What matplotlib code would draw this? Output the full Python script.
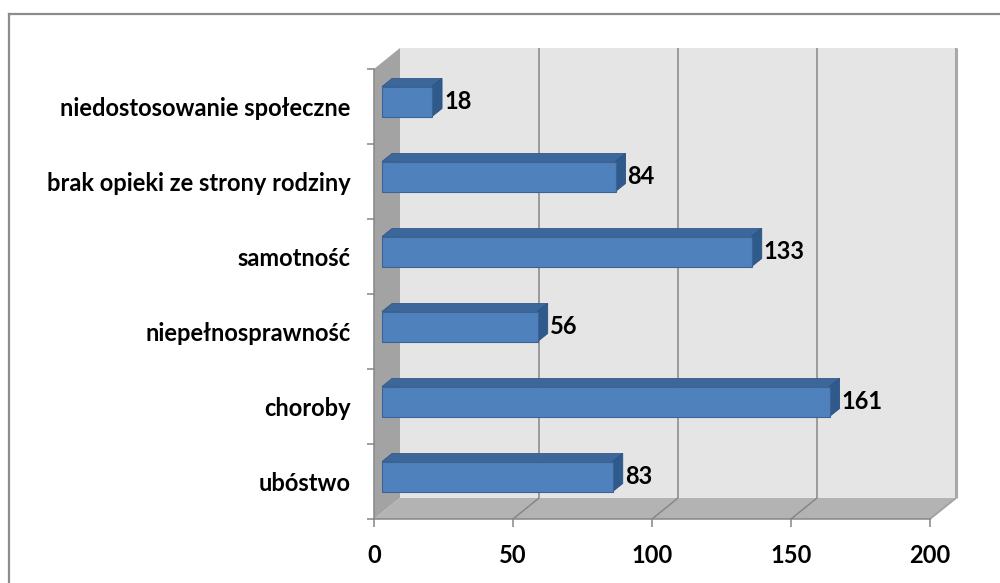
import numpy as np
import matplotlib
matplotlib.use("Agg")
import matplotlib.pyplot as plt
from matplotlib.patches import Polygon
from matplotlib.lines import Line2D
from matplotlib.transforms import IdentityTransform

categories = ["ubóstwo", "choroby", "niepełnosprawność", "samotność",
              "brak opieki ze strony rodziny", "niedostosowanie społeczne"]
values = [83, 161, 56, 133, 84, 18]
xticks = [0, 50, 100, 150, 200]

plt.rcParams['font.family'] = ['Lato', 'DejaVu Sans']
FS = 17

W, H = 1000, 583
fig = plt.figure(figsize=(W / 100, H / 100), dpi=100)
fx0, fx1, fy_top, fy_bot = 374, 930, 69, 519
ax = fig.add_axes([fx0 / W, (H - fy_bot) / H, (fx1 - fx0) / W, (fy_bot - fy_top) / H])
ax.set_xlim(0, 200)
ax.set_ylim(-0.5, len(categories) - 0.5)
ax.patch.set_visible(False)

DX, DY = 26, 21          # depth of the walls in pixels
BOX, BOY = 8, 5          # bar front-face offset
BDX, BDY = 10, 8         # bar depth
BH = 0.4                 # bar thickness in category units

def P(x, y, ox=0, oy=0):
    px, py = ax.transData.transform((x, y))
    return (px + ox, py + oy)

ID = IdentityTransform()
gridc = '#878787'
ymin, ymax = -0.5, len(categories) - 0.5

def poly(pts, fc, ec='none', lw=0, z=0):
    p = Polygon(pts, closed=True, facecolor=fc, edgecolor=ec, linewidth=lw,
                transform=ID, clip_on=False, zorder=z)
    ax.add_artist(p)

def line(pts, c=gridc, lw=1.1, z=1):
    xs, ys = zip(*pts)
    ax.add_artist(Line2D(xs, ys, color=c, linewidth=lw, transform=ID,
                         clip_on=False, zorder=z, solid_capstyle='butt'))

# back wall
poly([P(0, ymin, DX, DY), P(200, ymin, DX, DY), P(200, ymax, DX, DY), P(0, ymax, DX, DY)], '#e5e5e5', z=0)
# left wall
poly([P(0, ymin), P(0, ymin, DX, DY), P(0, ymax, DX, DY), P(0, ymax)], '#a3a3a3', z=0.1)
# floor
poly([P(0, ymin), P(200, ymin), P(200, ymin, DX, DY), P(0, ymin, DX, DY)], '#b3b3b3', z=0.1)

# gridlines on back wall and floor
for t in xticks[1:]:
    line([P(t, ymin, DX, DY), P(t, ymax, DX, DY)], z=0.5)
    line([P(t, ymin), P(t, ymin, DX, DY)], z=0.5)
# right edge of the back wall
line([P(200, ymin, DX, DY), P(200, ymax, DX, DY)], c='#a8a8a8', lw=2.2, z=0.6)
line([P(200, ymin), P(200, ymin, DX, DY)], c='#a8a8a8', lw=1.1, z=0.6)

# bars
for i, v in enumerate(values):
    y0, y1 = i - BH / 2, i + BH / 2
    f = [P(0, y0, BOX, BOY), P(v, y0, BOX, BOY), P(v, y1, BOX, BOY), P(0, y1, BOX, BOY)]
    top = [P(0, y1, BOX, BOY), P(v, y1, BOX, BOY), P(v, y1, BOX + BDX, BOY + BDY), P(0, y1, BOX + BDX, BOY + BDY)]
    side = [P(v, y0, BOX, BOY), P(v, y0, BOX + BDX, BOY + BDY), P(v, y1, BOX + BDX, BOY + BDY), P(v, y1, BOX, BOY)]
    poly(top, '#3c679b', ec='#36598a', lw=0.6, z=2)
    poly(side, '#2f5b8c', ec='#2c5080', lw=0.6, z=2)
    poly(f, '#4f81bd', ec='#3a6396', lw=0.8, z=2.1)
    ax.annotate(str(v), xy=(v, i), xytext=(BOX + BDX + 2, BOY), textcoords='offset pixels',
                ha='left', va='center', fontsize=FS, fontweight='bold', color='black',
                annotation_clip=False, zorder=3)

# axes / ticks
for s in ['top', 'right']:
    ax.spines[s].set_visible(False)
for s in ['left', 'bottom']:
    ax.spines[s].set_color('#868686')
    ax.spines[s].set_linewidth(1.1)
    ax.spines[s].set_zorder(1)

ax.set_xticks(xticks)
ax.set_xticklabels([str(t) for t in xticks], fontsize=FS, fontweight='bold')
ax.tick_params(axis='x', length=6, width=1.1, color='#868686', pad=12)

ax.set_yticks(range(len(categories)))
ax.set_yticklabels(categories, fontsize=FS, fontweight='bold')
ax.set_yticks(np.arange(ymin, ymax + 0.01, 1), minor=True)
ax.tick_params(axis='y', which='major', length=0, pad=17)
ax.tick_params(axis='y', which='minor', length=5, width=1.1, color='#868686')

# outer chart border
fig.add_artist(Line2D([9 / W, 9 / W], [0, (H - 14) / H], color='#8c8c8c', linewidth=1.6, transform=fig.transFigure))
fig.add_artist(Line2D([9 / W, 1], [(H - 14) / H, (H - 14) / H], color='#8c8c8c', linewidth=1.6, transform=fig.transFigure))

fig.savefig('out.png', dpi=100)
